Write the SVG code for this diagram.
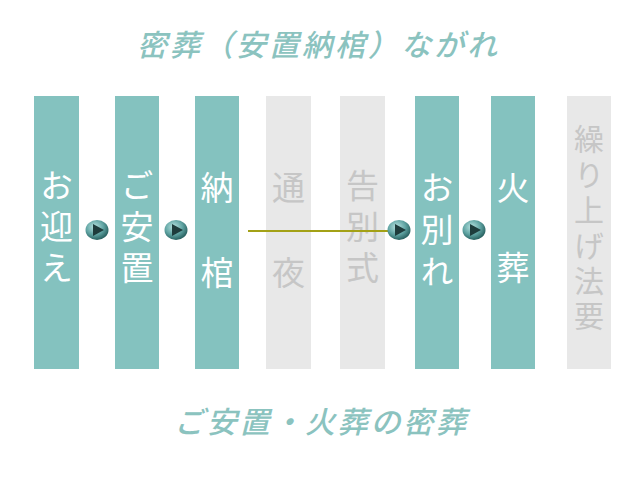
<svg xmlns="http://www.w3.org/2000/svg" width="639" height="480" viewBox="0 0 639 480">
<defs>
<radialGradient id="ball" cx="0.4" cy="0.35" r="0.7">
<stop offset="0" stop-color="#b8e4e2"/>
<stop offset="0.55" stop-color="#5fa3a2"/>
<stop offset="1" stop-color="#1f5655"/>
</radialGradient>
<symbol id="arrow" overflow="visible">
<ellipse cx="0" cy="0" rx="11.5" ry="10" fill="url(#ball)"/>
<polygon points="-4,-6 7,0 -4,6" fill="#1e3c3c"/>
</symbol>
</defs>
<style>
.on{fill:#84c2bf}
.off{fill:#e8e8e8}
.v{font-family:"Noto Sans CJK JP","Noto Sans",sans-serif;font-size:33px;writing-mode:vertical-rl}
.tw{fill:#ffffff}
.tg{fill:#c6c6c6}
.head{font-family:"Noto Sans CJK JP","Noto Sans",sans-serif;font-size:30px;font-weight:500;font-style:italic;fill:#8bc3bf}
</style>
<rect width="639" height="480" fill="#ffffff"/>
<text class="head" x="137" y="56" textLength="360" lengthAdjust="spacing">密葬（安置納棺）ながれ</text>
<g id="node-omukae">
<rect class="on" x="34" y="96" width="45" height="273"/>
<text class="v tw" x="56.5" y="168.5" style="letter-spacing:8px">お迎え</text>
</g>
<g id="node-goanchi">
<rect class="on" x="115" y="96" width="44" height="273"/>
<text class="v tw" x="137" y="168.5" style="letter-spacing:8px">ご安置</text>
</g>
<g id="node-nokan">
<rect class="on" x="195" y="96" width="44" height="273"/>
<text class="v tw" x="217" y="170.5" style="letter-spacing:52px">納棺</text>
</g>
<g id="node-tsuya">
<rect class="off" x="266" y="96" width="45" height="273"/>
<text class="v tg" x="288.5" y="170.5" style="letter-spacing:52px">通夜</text>
</g>
<g id="node-kokubetsu">
<rect class="off" x="340" y="96" width="45" height="273"/>
<text class="v tg" x="362.5" y="168.5" style="letter-spacing:8px">告別式</text>
</g>
<g id="node-owakare">
<rect class="on" x="415" y="96" width="44" height="273"/>
<text class="v tw" x="437" y="171" style="letter-spacing:9px">お別れ</text>
</g>
<g id="node-kaso">
<rect class="on" x="491" y="96" width="44" height="273"/>
<text class="v tw" x="513" y="170.5" style="letter-spacing:47px">火葬</text>
</g>
<g id="node-kuriage">
<rect class="off" x="567" y="96" width="44" height="273"/>
<text class="v tg" x="589" y="124" style="font-size:30px;letter-spacing:5.4px">繰り上げ法要</text>
</g>
<g id="connectors">
<line x1="248" y1="231" x2="392" y2="231" stroke="#a3a116" stroke-width="2"/>
<use href="#arrow" x="97" y="230"/>
<use href="#arrow" x="176" y="230"/>
<use href="#arrow" x="399" y="230"/>
<use href="#arrow" x="474" y="230"/>
</g>
<text class="head" x="174" y="433" textLength="292" lengthAdjust="spacing">ご安置・火葬の密葬</text>
</svg>
